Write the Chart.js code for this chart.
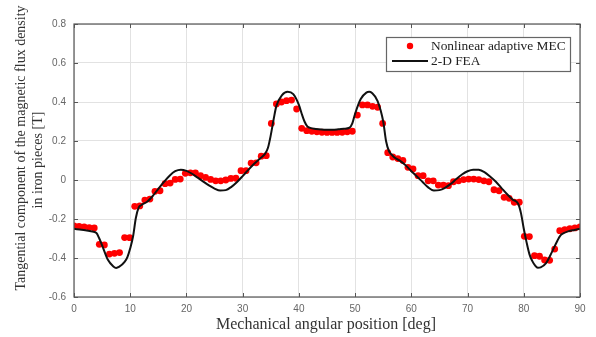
<!DOCTYPE html>
<html>
<head>
<meta charset="utf-8">
<script src="https://cdn.jsdelivr.net/npm/chart.js@4/dist/chart.umd.min.js"></script>
<style>
  html, body { margin: 0; padding: 0; background: #fff; }
  #wrap { width: 596px; height: 337px; position: relative; }
</style>
</head>
<body>
<div id="wrap"><canvas id="c" width="596" height="337"></canvas></div>
<script>
// Nonlinear adaptive MEC samples (angle in deg, flux density in T)
const mecAngle = [
  0.0, 0.9, 1.8, 2.7, 3.6, 4.5, 5.4, 6.3, 7.2, 8.1,
  9.0, 9.9, 10.8, 11.7, 12.6, 13.5, 14.4, 15.3, 16.2, 17.1,
  18.0, 18.9, 19.8, 20.7, 21.6, 22.5, 23.4, 24.3, 25.2, 26.1,
  27.0, 27.9, 28.8, 29.7, 30.6, 31.5, 32.4, 33.3, 34.2, 35.1,
  36.0, 36.9, 37.8, 38.7, 39.6, 40.5, 41.4, 42.3, 43.2, 44.1,
  45.0, 45.9, 46.8, 47.7, 48.6, 49.5, 50.4, 51.3, 52.2, 53.1,
  54.0, 54.9, 55.8, 56.7, 57.6, 58.5, 59.4, 60.3, 61.2, 62.1,
  63.0, 63.9, 64.8, 65.7, 66.6, 67.5, 68.4, 69.3, 70.2, 71.1,
  72.0, 72.9, 73.8, 74.7, 75.6, 76.5, 77.4, 78.3, 79.2, 80.1,
  81.0, 81.9, 82.8, 83.7, 84.6, 85.5, 86.4, 87.3, 88.2, 89.1,
  90.0
];
const mecValue = [
  -0.236, -0.238, -0.240, -0.244, -0.246, -0.330, -0.333, -0.380, -0.376, -0.372,
  -0.295, -0.296, -0.135, -0.133, -0.103, -0.098, -0.058, -0.055, -0.019, -0.016,
  0.003, 0.005, 0.034, 0.037, 0.036, 0.022, 0.013, 0.003, -0.004, -0.004,
  0.000, 0.008, 0.009, 0.048, 0.048, 0.087, 0.088, 0.122, 0.125, 0.290,
  0.390, 0.400, 0.407, 0.410, 0.364, 0.265, 0.253, 0.250, 0.247, 0.245,
  0.244, 0.244, 0.244, 0.245, 0.247, 0.250, 0.333, 0.385, 0.385, 0.378,
  0.373, 0.290, 0.140, 0.118, 0.110, 0.100, 0.065, 0.057, 0.022, 0.022,
  -0.004, -0.004, -0.026, -0.026, -0.029, -0.009, -0.004, 0.002, 0.005, 0.005,
  0.002, -0.004, -0.009, -0.050, -0.055, -0.089, -0.094, -0.114, -0.114, -0.289,
  -0.290, -0.388, -0.391, -0.410, -0.412, -0.354, -0.260, -0.255, -0.250, -0.246,
  -0.240
];

// 2-D FEA reference curve
const feaAngle = [
  0, 1, 2, 3, 4, 4.5, 5, 6, 7, 7.5, 8, 9, 9.5, 10, 10.5, 11, 11.5, 12, 13, 14,
  15, 16, 17, 18, 19, 20, 21, 22, 23, 24, 25, 26, 27, 28, 29, 30, 31, 32, 33, 34,
  34.5, 35, 35.5, 36, 37, 38, 39, 40, 40.5, 41, 41.5, 42, 43, 44, 45, 46, 47, 48, 49, 49.5,
  50, 51, 52, 52.5, 53, 54, 55, 55.5, 56, 56.5, 57, 58, 59, 60, 61, 62, 63, 64, 65, 66,
  67, 68, 69, 70, 71, 72, 73, 74, 75, 76, 77, 78, 79, 79.5, 80, 80.5, 81, 81.5, 82, 82.5,
  83, 84, 85, 86, 86.5, 87, 88, 89, 90
];
const feaValue = [
  -0.250, -0.254, -0.258, -0.263, -0.272, -0.300, -0.335, -0.408, -0.443, -0.451, -0.446, -0.420, -0.395, -0.350, -0.290, -0.195, -0.142, -0.128, -0.112, -0.082,
  -0.045, -0.010, 0.022, 0.045, 0.053, 0.047, 0.032, 0.012, -0.008, -0.028, -0.044, -0.054, -0.052, -0.035, -0.010, 0.020, 0.052, 0.082, 0.108, 0.135,
  0.165, 0.230, 0.310, 0.380, 0.435, 0.452, 0.440, 0.385, 0.340, 0.300, 0.275, 0.267, 0.262, 0.259, 0.258, 0.258, 0.260, 0.263, 0.268, 0.290,
  0.340, 0.415, 0.448, 0.452, 0.446, 0.405, 0.300, 0.200, 0.150, 0.130, 0.115, 0.098, 0.075, 0.045, 0.018, -0.010, -0.038, -0.054, -0.052, -0.040,
  -0.020, 0.005, 0.028, 0.045, 0.053, 0.052, 0.040, 0.018, -0.008, -0.040, -0.072, -0.100, -0.122, -0.170, -0.250, -0.320, -0.380, -0.415, -0.438, -0.450,
  -0.448, -0.425, -0.370, -0.310, -0.285, -0.274, -0.262, -0.256, -0.250
];

const xTicks = [0, 10, 20, 30, 40, 50, 60, 70, 80, 90];
const yTicks = [-0.6, -0.4, -0.2, 0, 0.2, 0.4, 0.6, 0.8];
const seriesNames = ['Nonlinear adaptive MEC', '2-D FEA'];
const yTitleLines = ['Tangential component of the magnetic flux density', 'in iron pieces [T]'];
const xTitle = 'Mechanical angular position [deg]';

const serif = "'Liberation Serif', 'Times New Roman', serif";
const sans = "'Liberation Sans', Arial, sans-serif";

// Box outline, inward ticks on all four sides, axis titles and the legend
const framePlugin = {
  id: 'frame',
  afterDraw(chart) {
    const { ctx, chartArea: a, scales } = chart;
    const xs = scales.x, ys = scales.y;
    ctx.save();
    ctx.strokeStyle = '#555';
    ctx.lineWidth = 1.2;
    ctx.strokeRect(a.left, a.top, a.right - a.left, a.bottom - a.top);
    ctx.lineWidth = 1;
    const tl = 4;
    ctx.beginPath();
    xTicks.forEach(v => {
      const px = Math.round(xs.getPixelForValue(v)) + 0.5;
      ctx.moveTo(px, a.bottom); ctx.lineTo(px, a.bottom - tl);
      ctx.moveTo(px, a.top); ctx.lineTo(px, a.top + tl);
    });
    yTicks.forEach(v => {
      const py = Math.round(ys.getPixelForValue(v)) + 0.5;
      ctx.moveTo(a.left, py); ctx.lineTo(a.left + tl, py);
      ctx.moveTo(a.right, py); ctx.lineTo(a.right - tl, py);
    });
    ctx.stroke();

    // axis titles
    ctx.fillStyle = '#333';
    ctx.textAlign = 'center';
    ctx.textBaseline = 'middle';
    ctx.font = '16px ' + serif;
    ctx.fillText(xTitle, (a.left + a.right) / 2 - 1, 325);
    ctx.font = '14px ' + serif;
    ctx.save();
    ctx.translate(21, 148);
    ctx.rotate(-Math.PI / 2);
    ctx.fillText(yTitleLines[0], 0, 0);
    ctx.restore();
    ctx.save();
    ctx.translate(38, 160);
    ctx.rotate(-Math.PI / 2);
    ctx.fillText(yTitleLines[1], 0, 0);
    ctx.restore();

    // legend
    const lx = 386, ly = 37, lw = 184, lh = 34;
    ctx.fillStyle = '#fff';
    ctx.fillRect(lx, ly, lw, lh);
    ctx.strokeStyle = '#666';
    ctx.lineWidth = 1.2;
    ctx.strokeRect(lx + 0.5, ly + 0.5, lw, lh);
    ctx.fillStyle = '#ff0000';
    ctx.beginPath();
    ctx.arc(410, 46, 3.2, 0, Math.PI * 2);
    ctx.fill();
    ctx.strokeStyle = '#111';
    ctx.lineWidth = 2;
    ctx.beginPath();
    ctx.moveTo(392, 61); ctx.lineTo(428, 61);
    ctx.stroke();
    ctx.fillStyle = '#222';
    ctx.font = '13.4px ' + serif;
    ctx.textAlign = 'left';
    ctx.fillText(seriesNames[0], 431, 46);
    ctx.fillText(seriesNames[1], 431, 61);
    ctx.restore();
  }
};

const mecPoints = mecAngle.map((x, i) => ({ x, y: mecValue[i] }));
const feaPoints = feaAngle.map((x, i) => ({ x, y: feaValue[i] }));

new Chart(document.getElementById('c'), {
  type: 'scatter',
  data: {
    datasets: [
      {
        label: seriesNames[0],
        data: mecPoints,
        showLine: false,
        pointRadius: 3.4,
        pointBackgroundColor: '#ff0000',
        pointBorderWidth: 0,
        pointBorderColor: '#ff0000',
        order: 2
      },
      {
        label: seriesNames[1],
        data: feaPoints,
        showLine: true,
        borderColor: '#111',
        borderWidth: 2,
        pointRadius: 0,
        cubicInterpolationMode: 'monotone',
        fill: false,
        order: 1
      }
    ]
  },
  options: {
    responsive: false,
    animation: false,
    devicePixelRatio: 1,
    layout: { padding: { top: 24, right: 16, left: 0, bottom: 0 } },
    plugins: { legend: { display: false }, tooltip: { enabled: false } },
    scales: {
      x: {
        type: 'linear',
        min: 0, max: 90,
        afterBuildTicks: s => { s.ticks = xTicks.map(v => ({ value: v })); },
        afterFit: s => { s.height = 40; },
        grid: { color: '#e2e2e2', lineWidth: 1, drawTicks: false },
        border: { display: false },
        ticks: { padding: 6, color: '#666', font: { family: sans, size: 10 }, maxRotation: 0 }
      },
      y: {
        type: 'linear',
        min: -0.6, max: 0.8,
        afterBuildTicks: s => { s.ticks = yTicks.map(v => ({ value: v })); },
        afterFit: s => { s.width = 74; },
        grid: { color: '#e2e2e2', lineWidth: 1, drawTicks: false },
        border: { display: false },
        ticks: {
          padding: 8, color: '#666', font: { family: sans, size: 10 },
          callback: v => (v === 0 ? '0' : String(v))
        }
      }
    }
  },
  plugins: [framePlugin]
});
</script>
</body>
</html>
